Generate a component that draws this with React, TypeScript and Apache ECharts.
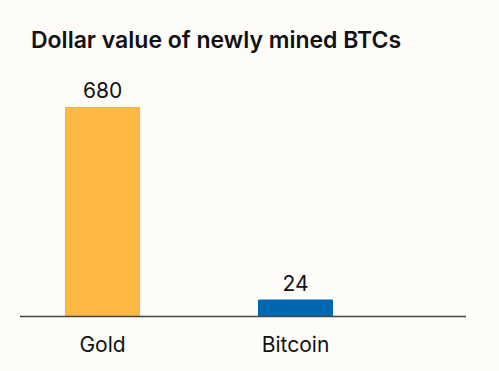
import React, { useEffect, useRef } from "react";
import * as echarts from "echarts";

const categories = ["Gold", "Bitcoin"];
const values = [680, 24];
const barColors = ["#FDB942", "#0068B0"];
const borderColors = ["#F7B23A", "#0068B0"];
const titleText = "Dollar value of newly mined BTCs";

const FONT = "Inter, 'Noto Sans', sans-serif";

export default function App() {
  const ref = useRef<HTMLDivElement>(null);
  useEffect(() => {
    if (!ref.current) return;
    const chart = echarts.init(ref.current, undefined, { renderer: "svg" });
    chart.setOption({
      animation: false,
      backgroundColor: "#FDFCF9",
      title: {
        text: titleText,
        left: 26,
        top: 23,
        textStyle: { fontFamily: FONT, fontSize: 23, fontWeight: 600, color: "#111" },
      },
      grid: { left: 6, width: 386, top: 107, bottom: 54.5 },
      xAxis: {
        type: "category",
        data: categories,
        axisLine: { show: false },
        axisTick: { show: false },
        axisLabel: { margin: 17, fontFamily: FONT, fontSize: 21, color: "#111" },
      },
      yAxis: {
        type: "value",
        min: 0,
        max: 680,
        show: false,
        splitLine: { show: false },
      },
      series: [
        {
          type: "bar",
          barWidth: 75,
          barMinHeight: 17,
          data: values.map((v, i) => ({
            value: v,
            itemStyle: { color: barColors[i], borderColor: borderColors[i], borderWidth: 1 },
          })),
          label: {
            show: true,
            position: "top",
            distance: 6,
            fontFamily: FONT,
            fontSize: 21,
            color: "#111",
          },
        },
      ],
      graphic: [
        {
          type: "line",
          z: 100,
          shape: { x1: 20, y1: 316.5, x2: 466, y2: 316.5 },
          style: { stroke: "#444", lineWidth: 1.5 },
        },
      ],
    });
    return () => chart.dispose();
  }, []);
  return (
    <div style={{ position: "absolute", left: 0, top: 0 }}>
      <div ref={ref} style={{ width: 499, height: 371 }} />
    </div>
  );
}
